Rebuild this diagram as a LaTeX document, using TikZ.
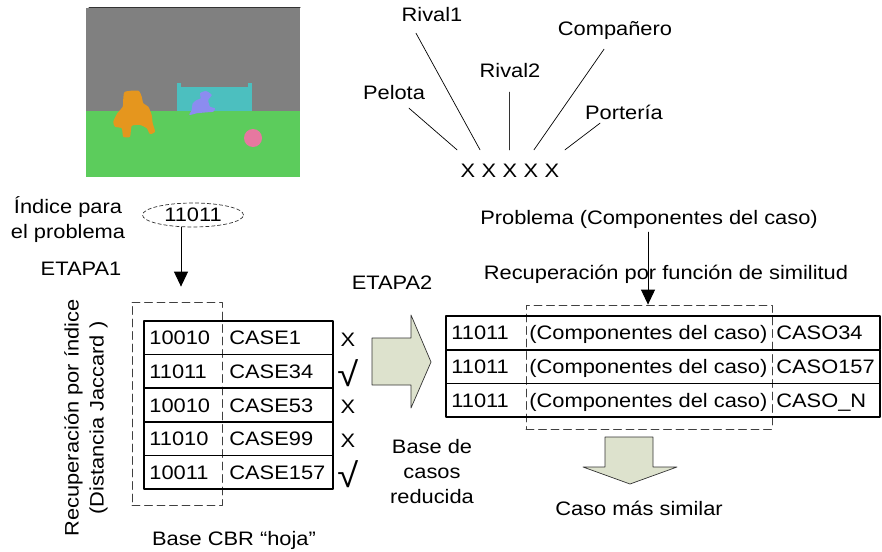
\documentclass[tikz,border=0pt]{standalone}
\usepackage{fontspec}
\setmainfont[FakeStretch=1.12]{Liberation Sans}
\usetikzlibrary{arrows.meta,shapes.geometric}

\definecolor{fondo}{RGB}{128,128,128}
\definecolor{cesped}{RGB}{92,204,92}
\definecolor{arco}{RGB}{76,191,191}
\definecolor{jugador}{RGB}{229,150,30}
\definecolor{perro}{RGB}{140,140,240}
\definecolor{bola}{RGB}{230,120,160}
\definecolor{flechafondo}{RGB}{221,226,205}

% marca de caso aceptado
\newcommand{\raiz}{{\fontsize{34}{34}\selectfont √}}

\begin{document}
\begin{tikzpicture}[
  x=1pt,
  y=-1pt,
  line cap=round,
  line join=round,
  every node/.style={
    font=\fontsize{19.5}{25}\selectfont,
    inner sep=0pt
  },
  fijo/.style={text height=14pt, text depth=0pt},
  celda/.style={draw, line width=1.6pt, minimum height=33.6pt},
  marco/.style={draw=black!75, line width=0.8pt, dash pattern=on 8pt off 4.5pt},
  flecha/.style={-{Triangle[length=15pt,width=14pt]}, line width=0.9pt},
  gruesa/.style={fill=flechafondo, draw=black!80, line width=0.7pt}
]
  \useasboundingbox (0,0) rectangle (882,551);

  % Imagen segmentada de la escena
  \fill[fondo] (86,8) rectangle (300,111);
  \fill[cesped] (86,111) rectangle (300,177);
  \draw[black!80, line width=1pt] (89,7.5) -- (300,7.5);
  \fill[arco] (177,87) rectangle (252,111);
  \fill[arco] (177,83) rectangle (181,111);
  \fill[arco] (248,83) rectangle (252,111);
  \fill[jugador]
    plot[smooth cycle, tension=0.4] coordinates {
      (125,91.7) (138.3,90.7) (141.7,96.7) (143.3,103.3) (148.3,106.7)
      (151.7,115) (152.7,123.3) (155,131.7) (150,134) (146.7,128.3)
      (140,125) (131.7,126) (130,136.7) (123.3,136.7) (121.7,128.3)
      (115,126.7) (113.3,121.7) (117.3,113.3) (122.7,106.7) (123.3,98.3)
    };
  \fill[perro]
    plot[smooth cycle, tension=0.4] coordinates {
      (200,93.3) (206,91) (211.7,95) (208.3,100) (210,106.7) (215,108.3)
      (213.3,111.7) (206.7,112.3) (196.7,113.3) (189.3,115) (191.7,110)
      (192.7,103.3) (196.7,100) (200.7,98.3)
    };
  \fill[bola] (253,138) circle[radius=9];

  % Componentes del caso
  \foreach \i in {1,...,5}
    \node[fijo] (x\i) at ({447+21*\i},170) {X};

  \node[fijo] (pelota) at (394,92) {Pelota};
  \node[fijo] (rival1) at (432,15) {Rival1};
  \node[fijo] (rival2) at (510,70) {Rival2};
  \node[fijo] (companero) at (615,29) {Compañero};
  \node[fijo] (porteria) at (624,112) {Portería};

  \draw[line width=0.7pt]
    ([xshift=15pt,yshift=-9pt]pelota.south) -- ([xshift=-11pt,yshift=13pt]x1.north);
  \draw[line width=0.7pt]
    ([xshift=-16pt,yshift=-11pt]rival1.south) -- ([xshift=-9pt,yshift=13pt]x2.north);
  \draw[line width=0.9pt, black!80]
    ([xshift=-1pt,yshift=-15pt]rival2.south) -- ([xshift=-1pt,yshift=13pt]x3.north);
  \draw[line width=0.7pt]
    ([xshift=-11pt,yshift=-13pt]companero.south) -- ([xshift=3pt,yshift=13pt]x4.north);
  \draw[line width=0.7pt]
    ([xshift=-24pt,yshift=-4pt]porteria.south) -- ([xshift=13pt,yshift=13pt]x5.north);

  % ETAPA1: recuperacion por indice
  \node[align=center] (rotulo) at (68,220) {Índice para\\el problema};
  \node[ellipse, draw=black!80, dash pattern=on 3.5pt off 2.5pt,
        line width=0.7pt, minimum width=101pt, minimum height=24pt]
    (indice) at (193,215) {11011};
  \node[fijo] (etapa1) at (81,268) {ETAPA1};

  \node[marco, minimum width=90pt, minimum height=203pt] (marcoA) at (177,403.5) {};
  \draw[flecha, shorten >=15pt]
    ([xshift=-12pt]indice.south) -- ([xshift=4pt]marcoA.north);

  \foreach \cod/\caso/\marca [count=\i] in {
    10010/CASE1/X,
    11011/CASE34/\raiz,
    10010/CASE53/X,
    11010/CASE99/X,
    10011/CASE157/\raiz
  }{
    \node[celda, minimum width=189pt] (fila\i) at (238.5,{321+33.6*(\i-0.5)}) {};
    \node[fijo, anchor=west] at ([xshift=6pt]fila\i.west) {\cod};
    \node[fijo, anchor=west] at ([xshift=86pt]fila\i.west) {\caso};
    \node (marca\i) at ([xshift=14pt,yshift=-2pt]fila\i.east) {\marca};
  }

  \node[rotate=90, align=center] (jaccard) at (86,418)
    {Recuperación por índice\\(Distancia Jaccard )};
  \node[fijo] (hoja) at (234,538) {Base CBR “hoja”};

  % ETAPA2: base reducida
  \node[fijo] (etapa2) at (392,282) {ETAPA2};
  \draw[gruesa]
    (372,338) -- (411,338) -- (411,315) -- (431,362)
    -- (411,408) -- (411,385) -- (372,385) -- cycle;
  \node[align=center] (reducida) at (432,472) {Base de\\casos\\reducida};

  \node[fijo] (problema) at (649,217) {Problema (Componentes del caso)};
  \node[fijo] (similitud) at (666,272) {Recuperación por función de similitud};

  \node[marco, minimum width=246pt, minimum height=124pt] (marcoB) at (649,367) {};
  \draw[flecha, shorten <=8pt]
    ([xshift=-1pt]problema.south) -- ([xshift=-1pt]marcoB.north);

  \foreach \caso [count=\i] in {CASO34, CASO157, CASO\_N}{
    \node[celda, minimum width=434pt] (caso\i) at (663,{316+33.67*(\i-0.5)}) {};
    \node[fijo, anchor=west] at ([xshift=6pt]caso\i.west) {11011};
    \node[fijo, anchor=west] at ([xshift=84pt]caso\i.west) {(Componentes del caso)};
    \node[fijo, anchor=west] at ([xshift=331pt]caso\i.west) {\caso};
  }

  % Resultado
  \draw[gruesa]
    (605,437) -- (653,437) -- (653,467) -- (677,467) -- (630,484)
    -- (583,467) -- (605,467) -- cycle;
  \node[fijo] (resultado) at (639,508) {Caso más similar};
\end{tikzpicture}
\end{document}
